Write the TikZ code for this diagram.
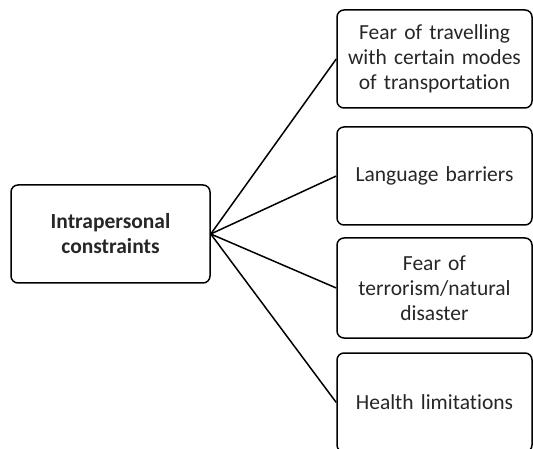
\documentclass[tikz,border=0pt]{standalone}
\usepackage{fontspec}
\setmainfont{Carlito}[Ligatures={NoCommon}]
\usepackage{tikz}

\begin{document}
\begin{tikzpicture}[x=1pt, y=-1pt,
		constraintbox/.style={draw, line width=1.5pt, rounded corners=7pt, align=center, inner sep=0pt, text width=190pt, font=\fontsize{21.5}{25}\selectfont, text=black!85},
		link/.style={line width=1.5pt}]
			%%%%% START %%%%%
			
			\useasboundingbox (0, 0) rectangle (533, 449);
			\clip (0, 0) rectangle (533, 449);
			
			\node[constraintbox, minimum width=199pt, minimum height=98pt, font=\bfseries\fontsize{21.5}{25}\selectfont] (intra) at (110.5, 234) {Intrapersonal\\constraints};
			
			\node[constraintbox, minimum width=195pt, minimum height=98pt] (travel) at (434.5, 59) {Fear of travelling\\with certain modes\\of transportation};
			\node[constraintbox, minimum width=195pt, minimum height=98pt] (language) at (434.5, 176) {Language barriers};
			\node[constraintbox, minimum width=195pt, minimum height=100pt] (terror) at (434.5, 288) {Fear of\\terrorism/natural\\disaster};
			\node[constraintbox, minimum width=195pt, minimum height=99pt] (health) at (434.5, 402.5) {Health limitations};
			
			\draw[link] (intra.east) -- (travel.west);
			\draw[link] (intra.east) -- (language.west);
			\draw[link] (intra.east) -- (terror.west);
			\draw[link] (intra.east) -- (health.west);
			
			%%%%% END %%%%%
		\end{tikzpicture}
\end{document}
